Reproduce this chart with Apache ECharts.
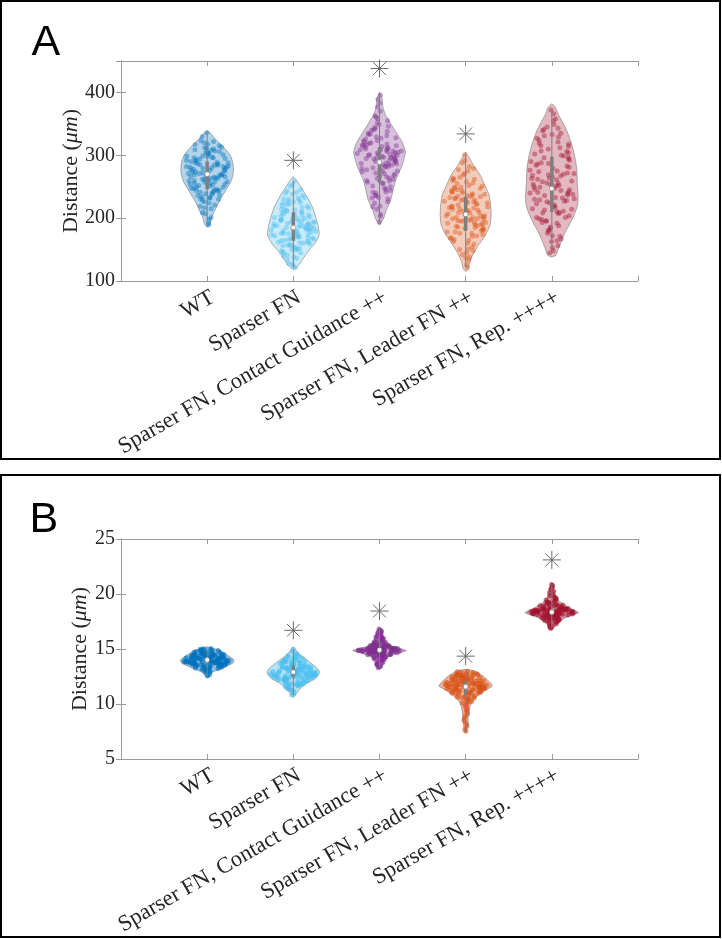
<!DOCTYPE html>
<html><head><meta charset="utf-8">
<script src="https://cdn.jsdelivr.net/npm/echarts@6/dist/echarts.min.js"></script>
<style>html,body{margin:0;padding:0;background:#fff}#c{width:722px;height:939px}</style>
</head><body><div id="c"></div>
<script>
// ---------- data ----------
const categories = ['WT','Sparser FN','Sparser FN, Contact Guidance ++','Sparser FN, Leader FN ++','Sparser FN, Rep. ++++'];
const colors = ['#0072BD','#4DBEEE','#7E2F8E','#D95319','#A2142F'];
const A_yTicks = [100,200,300,400];
const B_yTicks = [5,10,15,20,25];

// jitter fractions (relative position across the violin width)
const jitter = [0.12,-0.55,0.78,-0.21,0.43,-0.88,0.05,0.67,-0.37,0.91,-0.62,0.28,-0.09,0.51,-0.74,0.83,-0.44,0.19,-0.93,0.36,
 -0.15,0.72,-0.58,0.02,0.95,-0.31,0.47,-0.81,0.24,-0.66,0.59,-0.04,0.87,-0.49,0.15,-0.72,0.39,-0.26,0.76,-0.85,
 0.08,0.63,-0.41,0.31,-0.97,0.54,-0.18,0.89,-0.6,0.21,-0.34,0.69,-0.77,0.45,-0.11,0.8,-0.52,0.33,-0.69,0.98];

// Panel A values (µm)
const A_WT = [276,231,301,262,289,248,318,270,207,283,255,296,239,267,309,281,252,224,292,264,336,244,278,305,258,216,286,271,297,236,
 192,311,249,274,263,290,242,320,279,254,303,268,228,284,299,246,272,315,260,233,294,282,219,307,257,266,288,240,323,201,
 268,237,293,251,281,310,226,275,259,302,243,287,265,317,198,279,254,296,232,271,306,247,284,262,221,291,238,277,313,256,
 269,189,299,245,282,261,322,234,288,273,253,304,215,266,295,241,280,330,258,312,276,249,298,230,285,263,209,308,244,270];
const A_SP = [178,141,205,166,229,191,154,183,212,121,197,170,238,160,188,219,176,149,201,136,253,181,164,226,194,157,209,172,186,243,
 145,199,168,215,179,231,152,192,162,128,206,174,222,189,139,184,158,233,196,170,211,163,240,187,150,202,176,259,224,193,
 183,159,207,171,134,195,222,177,148,213,189,165,241,181,199,127,216,156,174,230,192,144,204,168,186,251,161,220,179,153,
 198,236,175,210,187,138,169,227,184,203,151,194,217,162,245,180,200,173,232,157,190,208,124,167,185,225,146,196,214,182];
const A_CG = [298,241,315,272,331,287,219,304,345,262,310,283,233,296,326,250,301,370,279,318,194,289,340,267,307,236,293,323,256,313,
 284,349,226,300,275,335,248,358,291,309,383,264,320,281,303,242,329,270,295,206,342,259,316,286,297,231,361,306,277,396,
 302,268,319,285,232,311,294,346,257,327,299,214,308,274,338,290,244,317,203,280,296,363,266,323,305,251,288,333,275,314,
 224,300,352,282,260,309,294,236,328,377,271,304,246,321,286,341,297,218,312,263,292,334,278,355,240,301,316,255,389,307];
const A_LD = [212,178,247,195,229,163,258,203,186,238,218,151,271,199,233,182,245,208,169,226,292,191,214,137,251,176,223,262,197,241,
 209,184,279,231,160,217,193,249,121,204,236,172,265,201,227,188,243,148,219,275,196,234,166,256,211,180,142,239,301,224,
 206,183,232,197,244,171,215,189,260,225,154,201,237,178,213,269,193,249,165,221,138,207,185,230,198,255,176,242,218,145,
 288,202,228,190,264,211,159,235,181,248,126,196,222,277,204,187,252,168,216,240,133,199,227,174,209,282,192,234,150,262];
const A_RP = [247,198,281,226,312,263,172,239,296,214,341,255,186,270,230,304,145,251,327,209,287,242,193,266,318,236,358,201,275,223,
 299,163,259,331,217,284,244,179,306,268,153,228,345,252,290,211,372,238,315,261,195,272,324,232,183,294,249,207,339,167,
 253,204,288,233,319,267,181,245,302,219,335,258,192,276,227,310,156,241,349,213,283,250,188,264,297,229,366,199,271,221,
 307,171,256,329,215,279,237,176,314,262,148,224,343,246,292,208,355,240,321,269,201,274,333,231,196,300,254,210,286,164];

// Panel A density profiles [value, relative density]
const A_WT_dens = [[186,0],[190,.1],[200,.16],[213,.3],[229,.49],[245,.72],[260,.92],[274,1],[287,.98],[300,.88],[313,.62],[325,.33],[335,.13],[339,0]];
const A_SP_dens = [[118,0],[123,.16],[133,.33],[147,.56],[160,.82],[173,.98],[186,.95],[202,.85],[218,.72],[234,.52],[247,.33],[261,.1],[266,0]];
const A_CG_dens = [[189,0],[200,.16],[213,.26],[229,.43],[245,.52],[261,.62],[277,.79],[292,.92],[306,.98],[322,.85],[337,.62],[353,.39],[364,.23],[377,.13],[390,.1],[400,0]];
const A_LD_dens = [[115,0],[120,.1],[131,.16],[144,.3],[157,.49],[173,.75],[189,.93],[205,.97],[221,.95],[237,.89],[253,.72],[268,.56],[284,.3],[298,.11],[305,0]];
const A_RP_dens = [[138,0],[141,.16],[149,.23],[160,.33],[176,.49],[189,.66],[205,.85],[221,.98],[234,1],[255,.97],[277,.95],[292,.9],[308,.82],[322,.72],[337,.59],[351,.43],[364,.26],[377,.13],[382,0]];

const A_q1  = [246,164,256,180,210];
const A_med = [270,185,289,206,247];
const A_q3  = [290,209,313,234,298];
const A_star = [null,292,438,334,null];

// Panel B values (µm)
const B_WT = [13.92,13.55,14.21,13.28,14.47,13.81,14.08,13.63,14.72,13.96,13.44,14.36,12.97,14.15,13.74,14.52,13.18,14.02,13.88,14.91,
 13.51,14.27,13.69,14.63,13.35,14.11,13.84,14.41,12.55,14.05,13.59,14.33,13.77,14.78,13.23,14.18,13.99,14.55,13.47,14.97,
 13.66,14.24,12.88,14.44,13.86,14.12,13.41,14.68,13.73,14.29,13.57,15.05,13.94,14.38,13.12,14.01,13.79,14.59,13.62,14.86,
 13.97,13.61,14.26,13.33,14.51,13.85,14.04,13.68,14.75,13.91,13.48,14.39,13.02,14.19,13.78,14.57,13.22,14.07,13.83,14.94,
 13.54,14.31,13.71,14.66,13.38,14.14,13.89,14.46,12.68,14.09,13.64,14.35,13.81,14.81,13.27,14.22,14.03,14.61,13.52,15.02,
 13.7,14.28,12.92,14.42,13.87,14.16,13.45,14.71,13.76,14.33,13.58,14.88,13.98,14.49,13.15,14.06,13.82,14.54,13.65,14.12];
const B_SP = [12.62,13.31,11.74,12.95,13.72,12.41,11.18,13.08,12.54,14.18,12.86,12.13,13.44,11.63,12.71,13.89,12.35,12.99,10.82,13.22,
 12.48,14.36,11.95,13.61,12.77,12.22,13.15,11.51,12.58,14.05,13.38,12.67,11.87,13.79,12.92,12.45,14.62,13.27,12.05,11.37,
 12.83,13.51,12.31,13.97,12.74,11.69,13.04,12.52,14.27,13.19,12.38,11.98,13.66,12.89,14.98,13.42,12.18,11.82,13.85,12.64,
 12.68,13.35,11.79,12.97,13.75,12.44,11.25,13.11,12.57,14.22,12.88,12.16,13.47,11.58,12.75,13.92,12.39,13.01,10.9,13.25,
 12.51,14.41,11.91,13.64,12.8,12.26,13.17,11.46,12.61,14.09,13.41,12.7,11.84,13.82,12.94,12.48,14.55,13.29,12.09,11.31,
 12.85,13.55,12.34,14.01,12.78,11.66,13.06,12.55,14.31,13.21,12.42,12.02,13.69,12.91,14.8,13.45,12.21,11.77,13.88,12.66];
const B_CG = [14.88,14.52,15.07,14.71,13.46,15.31,14.93,14.22,15.62,14.79,14.97,14.41,15.14,16.05,14.83,13.78,15.38,14.66,14.91,14.12,
 15.21,14.76,16.48,14.56,15.02,14.86,13.95,15.55,14.69,15.11,14.95,14.38,15.27,16.82,14.81,14.28,15.71,14.73,15.04,13.61,
 14.62,15.42,14.89,15.88,14.47,15.18,14.99,14.05,16.27,14.84,15.09,14.59,13.29,15.49,14.77,16.61,14.94,14.44,15.34,15.96,
 14.86,14.49,15.05,14.74,13.52,15.28,14.95,14.25,15.66,14.82,14.92,14.43,15.16,16.12,14.8,13.84,15.35,14.63,14.9,14.16,
 15.24,14.78,16.39,14.58,15.0,14.87,13.9,15.51,14.67,15.13,14.96,14.35,15.3,16.71,14.84,14.31,15.76,14.7,15.06,13.69,
 14.6,15.45,14.91,15.92,14.5,15.2,14.98,14.09,16.21,14.85,15.1,14.61,13.38,15.58,14.79,16.55,14.93,14.46,15.37,16.0];
const B_LD = [11.62,12.08,11.35,12.51,10.94,11.78,12.27,11.46,10.58,12.69,11.83,11.12,12.15,7.52,11.55,12.42,11.71,10.87,12.93,11.29,
 12.01,11.66,10.11,12.34,11.41,12.58,11.87,8.47,11.03,12.19,11.58,10.66,12.76,11.38,11.95,12.23,9.31,11.74,11.21,12.47,
 10.42,11.52,12.62,11.81,10.99,12.11,8.92,11.44,12.37,9.94,11.68,12.86,11.16,10.51,12.04,7.98,11.33,9.62,12.71,10.23,
 11.65,12.11,11.31,12.55,10.97,11.8,12.3,11.49,10.62,12.73,11.86,11.08,12.18,7.71,11.57,12.45,11.73,10.83,12.97,11.26,
 12.04,11.69,10.18,12.38,11.43,12.61,11.9,8.68,11.06,12.22,11.6,10.71,12.8,11.36,11.97,12.26,9.12,11.76,11.18,12.5,
 10.46,11.54,12.65,11.84,11.01,12.14,9.47,11.41,12.4,9.83,11.7,12.89,11.13,10.55,12.07,8.21,11.28,10.3,12.67,11.63];
const B_RP = [18.34,18.07,18.61,17.82,18.45,18.19,19.12,17.51,18.52,18.28,18.88,17.96,18.39,19.41,18.13,18.67,17.23,18.31,18.94,18.02,
 18.56,17.71,19.84,18.24,18.42,19.21,17.88,18.49,18.16,20.42,18.73,17.62,18.36,19.06,18.21,17.04,18.58,17.93,19.53,18.44,
 18.11,18.81,17.42,18.27,20.11,18.64,17.78,18.38,19.28,18.05,20.87,18.53,17.86,18.97,18.26,19.67,17.58,18.47,16.88,18.69,
 18.36,18.1,18.63,17.85,18.47,18.22,19.16,17.55,18.5,18.3,18.85,17.99,18.41,19.45,18.15,18.7,17.3,18.33,18.91,18.04,
 18.58,17.74,19.93,18.26,18.44,19.25,17.9,18.51,18.18,20.6,18.76,17.66,18.38,19.03,18.23,17.12,18.6,17.95,19.6,18.43,
 18.12,18.83,17.46,18.29,20.25,18.66,17.8,18.4,19.35,18.08,20.75,18.55,17.88,18.99,18.27,19.75,17.6,18.49,16.95,18.72];

const B_WT_dens = [[12.4,0],[12.5,.07],[12.8,.13],[13.1,.39],[13.4,.69],[13.7,.95],[14.0,1],[14.3,.85],[14.6,.66],[14.85,.48],[15.06,.23],[15.2,0]];
const B_SP_dens = [[10.6,0],[11.0,.13],[11.4,.26],[11.9,.51],[12.3,.82],[12.8,.98],[13.1,.95],[13.55,.75],[14.0,.51],[14.45,.26],[14.9,.1],[15.2,0]];
const B_CG_dens = [[13.2,0],[13.25,.06],[13.55,.13],[14.0,.2],[14.35,.36],[14.65,.72],[14.85,1],[15.0,.84],[15.2,.52],[15.45,.32],[15.8,.2],[16.3,.13],[16.7,.1],[16.9,0]];
const B_LD_dens = [[7.4,0],[7.94,.07],[8.85,.1],[9.75,.16],[10.36,.28],[10.8,.49],[11.27,.75],[11.64,1],[11.9,.93],[12.35,.75],[12.8,.49],[13.03,.3],[13.15,0]];
const B_RP_dens = [[16.7,0],[16.97,.1],[17.34,.23],[17.7,.41],[18.0,.66],[18.3,1],[18.7,.69],[19.0,.48],[19.3,.3],[19.6,.2],[20.06,.1],[20.66,.07],[21.0,0]];

const B_q1  = [13.75,12.5,14.7,10.75,18.1];
const B_med = [14.0,12.9,14.9,11.57,18.35];
const B_q3  = [14.25,13.5,15.1,12.0,18.6];
const B_star = [null,16.7,18.45,14.35,23.1];

// ---------- helpers ----------
const SERIF = 'Liberation Serif';
const TXT = '#262626';
const AX = '#9a9a9a';
const GREY = '#7f7f7f';
function rgba(hex, a){const n=parseInt(hex.slice(1),16);return `rgba(${n>>16&255},${n>>8&255},${n&255},${a})`;}
function densAt(prof, v){
  if (v<=prof[0][0] || v>=prof[prof.length-1][0]) return 0;
  for (let k=0;k<prof.length-1;k++){const [v0,d0]=prof[k],[v1,d1]=prof[k+1];
    if (v>=v0 && v<=v1) return d0+(d1-d0)*(v-v0)/(v1-v0);}
  return 0;
}
function jit(k){ const n=jitter.length; return jitter[(k + Math.floor(k/n)*31) % n]; }

const panels = [
  {values:[A_WT,A_SP,A_CG,A_LD,A_RP], dens:[A_WT_dens,A_SP_dens,A_CG_dens,A_LD_dens,A_RP_dens],
   q1:A_q1, med:A_med, q3:A_q3, star:A_star, ticks:A_yTicks, min:100, max:450, interval:100, halfW:0.305, top:61, nameGap:39, ptOp:0.42, fillA:0.3},
  {values:[B_WT,B_SP,B_CG,B_LD,B_RP], dens:[B_WT_dens,B_SP_dens,B_CG_dens,B_LD_dens,B_RP_dens],
   q1:B_q1, med:B_med, q3:B_q3, star:B_star, ticks:B_yTicks, min:5, max:25, interval:5, halfW:0.31, top:539, nameGap:30, ptOp:0.6, fillA:0.45}
];

const grid=[], xAxis=[], yAxis=[], series=[];
panels.forEach((P,p)=>{
  grid.push({left:121, top:P.top, width:517, height:220, outerBoundsMode:'none', containLabel:false});
  const baseX = {type:'value', gridIndex:p, min:0, max:6, interval:1, splitLine:{show:false},
    axisLine:{show:true, lineStyle:{color:AX, width:1}},
    axisTick:{show:true, inside:true, length:5, lineStyle:{color:AX}}};
  xAxis.push(Object.assign({}, baseX, {position:'bottom',
    axisLabel:{show:true, rotate:30, margin:5, verticalAlign:'top', color:TXT, fontFamily:SERIF, fontSize:22.5,
      formatter:v=> (v>=1 && v<=5) ? categories[v-1] : ''}}));
  xAxis.push(Object.assign({}, baseX, {position:'top', axisLabel:{show:false}}));
  const baseY = {type:'value', gridIndex:p, min:P.min, max:P.max, interval:P.interval, splitLine:{show:false},
    axisLine:{show:true, lineStyle:{color:AX, width:1}},
    axisTick:{show:true, inside:true, length:5, lineStyle:{color:AX}}};
  yAxis.push(Object.assign({}, baseY, {position:'left',
    name:'Distance ({it|μm})', nameLocation:'middle', nameGap:P.nameGap, nameRotate:90, nameMoveOverlap:false,
    nameTextStyle:{color:TXT, fontFamily:SERIF, fontSize:22, rich:{it:{fontStyle:'italic', fontFamily:SERIF, fontSize:22, color:TXT}}},
    axisLabel:{show:true, margin:6, color:TXT, fontFamily:SERIF, fontSize:20,
      formatter:v=> P.ticks.includes(v) ? String(v) : ''}}));
  yAxis.push(Object.assign({}, baseY, {position:'right', axisLabel:{show:false}}));
  const xi = p*2, yi = p*2;

  // violins
  series.push({type:'custom', xAxisIndex:xi, yAxisIndex:yi, z:2, silent:true, animation:false,
    encode:{x:0,y:1}, data:categories.map((c,i)=>[i+1,P.med[i]]),
    renderItem:(params, api)=>{
      const i = params.dataIndex, cx = i+1, prof = P.dens[i], pts=[];
      prof.forEach(([v,d])=>pts.push(api.coord([cx + d*P.halfW, v])));
      for (let k=prof.length-1;k>=0;k--){const [v,d]=prof[k]; pts.push(api.coord([cx - d*P.halfW, v]));}
      return {type:'polygon', shape:{points:pts, smooth:0.2},
        style:{fill:rgba(colors[i],P.fillA), stroke:'rgba(120,120,120,0.75)', lineWidth:0.8}};
    }});
  // points
  P.values.forEach((vals,i)=>{
    const cx=i+1;
    series.push({type:'scatter', xAxisIndex:xi, yAxisIndex:yi, z:3, silent:true, animation:false,
      symbolSize:5, itemStyle:{color:colors[i], opacity:P.ptOp},
      data: vals.map((v,k)=>[cx + jit(k)*densAt(P.dens[i],v)*P.halfW*0.9, v])});
  });
  // whiskers, boxes, medians
  series.push({type:'custom', xAxisIndex:xi, yAxisIndex:yi, z:4, silent:true, animation:false,
    encode:{x:0,y:1}, data:categories.map((c,i)=>[i+1,P.med[i]]),
    renderItem:(params, api)=>{
      const i = params.dataIndex, cx=i+1, vals=P.values[i];
      const a=api.coord([cx,Math.min(...vals)]), b=api.coord([cx,Math.max(...vals)]);
      const q1=api.coord([cx,P.q1[i]]), q3=api.coord([cx,P.q3[i]]), m=api.coord([cx,P.med[i]]);
      return {type:'group', children:[
        {type:'line', shape:{x1:a[0],y1:a[1],x2:b[0],y2:b[1]}, style:{stroke:GREY, lineWidth:1}},
        {type:'line', shape:{x1:q1[0],y1:q1[1],x2:q3[0],y2:q3[1]}, style:{stroke:GREY, lineWidth:3.5}},
        {type:'circle', shape:{cx:m[0],cy:m[1],r:2.4}, style:{fill:'#fff', stroke:GREY, lineWidth:0.6}}
      ]};
    }});
  // asterisks
  series.push({type:'custom', xAxisIndex:xi, yAxisIndex:yi, z:5, silent:true, animation:false,
    encode:{x:0,y:1}, data:P.star.map((s,i)=>s==null?null:[i+1,s]).filter(d=>d),
    renderItem:(params, api)=>{
      const c = api.coord([api.value(0), api.value(1)]), r=9, d=6.4;
      const seg=(x1,y1,x2,y2)=>({type:'line', shape:{x1:c[0]+x1,y1:c[1]+y1,x2:c[0]+x2,y2:c[1]+y2}, style:{stroke:'#6a6a6a', lineWidth:1}});
      return {type:'group', children:[seg(-r,0,r,0), seg(0,-r,0,r), seg(-d,-d,d,d), seg(-d,d,d,-d)]};
    }});
});

const chart = echarts.init(document.getElementById('c'), null, {renderer:'canvas'});
chart.setOption({
  animation:false, backgroundColor:'#fff',
  grid, xAxis, yAxis, series,
  graphic:[
    {type:'rect', silent:true, shape:{x:1,y:1,width:719,height:458}, style:{fill:'none', stroke:'#000', lineWidth:2}},
    {type:'rect', silent:true, shape:{x:1,y:475,width:719,height:462}, style:{fill:'none', stroke:'#000', lineWidth:2}},
    {type:'text', silent:true, x:31.5, y:43, style:{text:'A', fontSize:43, fontFamily:'Liberation Sans', fill:'#000', verticalAlign:'middle'}},
    {type:'text', silent:true, x:29.5, y:520.5, style:{text:'B', fontSize:43, fontFamily:'Liberation Sans', fill:'#000', verticalAlign:'middle'}}
  ]
});
</script></body></html>
